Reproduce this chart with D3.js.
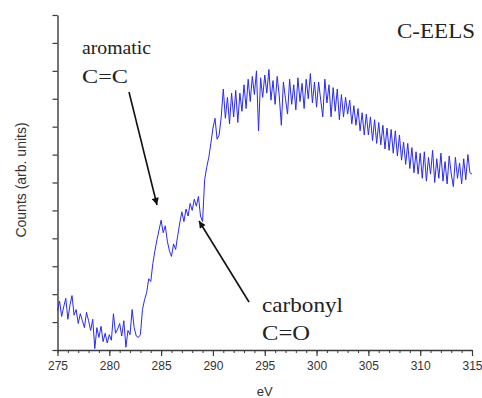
<!DOCTYPE html>
<html>
<head>
<meta charset="utf-8">
<script src="https://cdn.jsdelivr.net/npm/d3@7"></script>
<style>
  html, body { margin: 0; padding: 0; background: #fff; }
  svg { display: block; }
</style>
</head>
<body>
<div id="chart"></div>
<script>
// C-EELS spectrum, counts in arbitrary units, sampled every 0.2 eV from 275 eV
const eVStart = 275;
const eVStep = 0.2;
const counts = [
  1.40, 1.75, 1.20, 1.55, 1.85,
  1.10, 1.60, 1.95, 1.25, 1.45,
  0.95, 1.30, 1.05, 0.80, 1.35,
  1.05, 0.70, 1.10, 0.05, 0.80,
  0.45, 0.85, 0.30, 0.60, 0.25,
  0.55, 0.35, 1.30, 0.60, 0.75,
  0.95, 0.50, 1.05, 0.10, 0.70,
  0.55, 1.45, 0.80, 0.50, 0.45,
  0.55, 1.45, 1.80, 2.05, 2.55,
  2.45, 3.10, 3.55, 3.95, 4.30,
  4.65, 4.20, 4.45, 3.90, 3.55,
  3.35, 3.80, 3.60, 4.10, 4.55,
  4.95, 4.60, 5.05, 4.80, 5.25,
  5.00, 5.40, 5.15, 5.50, 4.80,
  4.60, 6.10, 6.55, 6.90, 7.40,
  7.95, 8.30, 7.55, 7.70, 8.35,
  9.35, 8.30, 9.05, 8.10, 9.20,
  8.35, 9.30, 8.15, 9.20, 8.55,
  9.50, 8.65, 9.70, 8.90, 9.80,
  9.15, 10.00, 7.85, 9.75, 9.05,
  9.85, 9.20, 10.05, 8.95, 9.65,
  8.80, 9.80, 9.10, 8.05, 9.60,
  9.00, 8.45, 9.70, 8.80, 9.50,
  8.60, 9.75, 8.90, 9.55, 8.65,
  9.70, 9.00, 9.90, 8.85, 9.60,
  8.70, 9.60, 8.95, 8.35, 9.70,
  8.85, 9.50, 8.35, 9.40, 8.55,
  9.35, 8.25, 9.15, 8.35, 9.05,
  8.45, 8.95, 8.10, 8.75, 8.05,
  8.65, 7.85, 8.50, 7.70, 8.45,
  7.70, 8.35, 7.50, 8.25, 7.40,
  8.15, 7.35, 8.05, 7.20, 7.95,
  7.15, 7.90, 7.05, 7.85, 6.95,
  7.70, 6.80, 7.45, 6.65, 7.40,
  6.50, 7.25, 6.35, 7.10, 6.30,
  7.05, 6.15, 7.10, 6.05, 6.90,
  6.30, 7.15, 6.00, 6.85, 6.15,
  7.05, 6.05, 6.75, 5.95, 6.95,
  6.30, 5.85, 6.90, 6.15, 6.70,
  5.95, 6.85, 6.10, 7.00, 6.35,
  6.30
];

const xMajorTicks = [275, 280, 285, 290, 295, 300, 305, 310, 315];
const xTickLabels = ['275', '280', '285', '290', '295', '300', '305', '310', '315'];
const yTicks = [0, 1, 2, 3, 4, 5, 6, 7, 8, 9, 10, 11, 12];

const width = 482;
const height = 398;
const margin = { top: 15, right: 10, bottom: 48, left: 57.5 };

const svg = d3.select('#chart')
  .append('svg')
  .attr('width', width)
  .attr('height', height);

const x = d3.scaleLinear()
  .domain([275, 315])
  .range([margin.left, width - margin.right]);

const y = d3.scaleLinear()
  .domain([0, 12])
  .range([height - margin.bottom, margin.top]);

const axisColor = '#3a3a3a';

// Minor x ticks (every 1 eV)
svg.append('g')
  .attr('transform', `translate(0,${y(0)})`)
  .call(d3.axisBottom(x).tickValues(d3.range(275, 316, 1)).tickSize(3).tickFormat(''))
  .call(g => g.select('.domain').remove())
  .call(g => g.selectAll('line').attr('stroke', axisColor).attr('stroke-width', 1));

// Major x ticks with labels
svg.append('g')
  .attr('transform', `translate(0,${y(0)})`)
  .call(d3.axisBottom(x).tickValues(xMajorTicks).tickSize(6).tickSizeOuter(0)
    .tickFormat((d, i) => xTickLabels[i]))
  .call(g => g.select('.domain').attr('stroke', axisColor).attr('stroke-width', 1.4))
  .call(g => g.selectAll('line').attr('stroke', axisColor).attr('stroke-width', 1.2))
  .call(g => g.selectAll('text')
    .attr('fill', '#333')
    .attr('dy', '0.95em')
    .style('font-family', 'Liberation Sans, Arial, sans-serif')
    .style('font-size', '12px'));

// Y axis, no labels
svg.append('g')
  .attr('transform', `translate(${x(275)},0)`)
  .call(d3.axisLeft(y).tickValues(yTicks).tickSize(5).tickSizeOuter(0).tickFormat(''))
  .call(g => g.select('.domain').attr('stroke', axisColor).attr('stroke-width', 1.4))
  .call(g => g.selectAll('line').attr('stroke', axisColor).attr('stroke-width', 1.2));

// Axis titles
svg.append('text')
  .attr('x', (x(275) + x(315)) / 2)
  .attr('y', 396)
  .attr('text-anchor', 'middle')
  .attr('fill', '#333')
  .style('font-family', 'Liberation Sans, Arial, sans-serif')
  .style('font-size', '13px')
  .text('eV');

svg.append('text')
  .attr('transform', 'translate(26,180) rotate(-90)')
  .attr('text-anchor', 'middle')
  .attr('fill', '#333')
  .style('font-family', 'Liberation Sans, Arial, sans-serif')
  .style('font-size', '14px')
  .text('Counts (arb. units)');

// Spectrum
const line = d3.line()
  .x((d, i) => x(eVStart + i * eVStep))
  .y(d => y(d));

svg.append('path')
  .datum(counts)
  .attr('fill', 'none')
  .attr('stroke', '#2a2aef')
  .attr('stroke-width', 1)
  .attr('stroke-linejoin', 'round')
  .attr('d', line);

// Annotations
const serif = 'Liberation Serif, Times New Roman, serif';
const labels = [
  { text: 'aromatic', x: 82, y: 54, size: 19, len: 69 },
  { text: 'C=C', x: 82, y: 83, size: 19, len: 46 },
  { text: 'carbonyl', x: 262, y: 312, size: 22, len: 81 },
  { text: 'C=O', x: 262, y: 340, size: 22, len: 48 },
  { text: 'C-EELS', x: 397, y: 38, size: 20, len: 78 }
];

svg.selectAll('text.note')
  .data(labels)
  .enter()
  .append('text')
  .attr('class', 'note')
  .attr('x', d => d.x)
  .attr('y', d => d.y)
  .attr('textLength', d => d.len)
  .attr('lengthAdjust', 'spacingAndGlyphs')
  .attr('fill', '#222')
  .style('font-family', serif)
  .style('font-size', d => d.size + 'px')
  .text(d => d.text);

svg.append('defs')
  .append('marker')
  .attr('id', 'head')
  .attr('viewBox', '0 0 10 10')
  .attr('refX', 10)
  .attr('refY', 5)
  .attr('markerWidth', 9)
  .attr('markerHeight', 7)
  .attr('markerUnits', 'userSpaceOnUse')
  .attr('orient', 'auto')
  .append('path')
  .attr('d', 'M0,0 L10,5 L0,10 Z')
  .attr('fill', '#111');

// arrows point at the aromatic (285 eV) and carbonyl (288.8 eV) features
const arrows = [
  { from: [129, 92], to: [157, 205] },
  { from: [249, 302], to: [199, 221] }
];

svg.selectAll('line.arrow')
  .data(arrows)
  .enter()
  .append('line')
  .attr('class', 'arrow')
  .attr('x1', d => d.from[0])
  .attr('y1', d => d.from[1])
  .attr('x2', d => d.to[0])
  .attr('y2', d => d.to[1])
  .attr('stroke', '#111')
  .attr('stroke-width', 1.6)
  .attr('marker-end', 'url(#head)');
</script>
</body>
</html>
